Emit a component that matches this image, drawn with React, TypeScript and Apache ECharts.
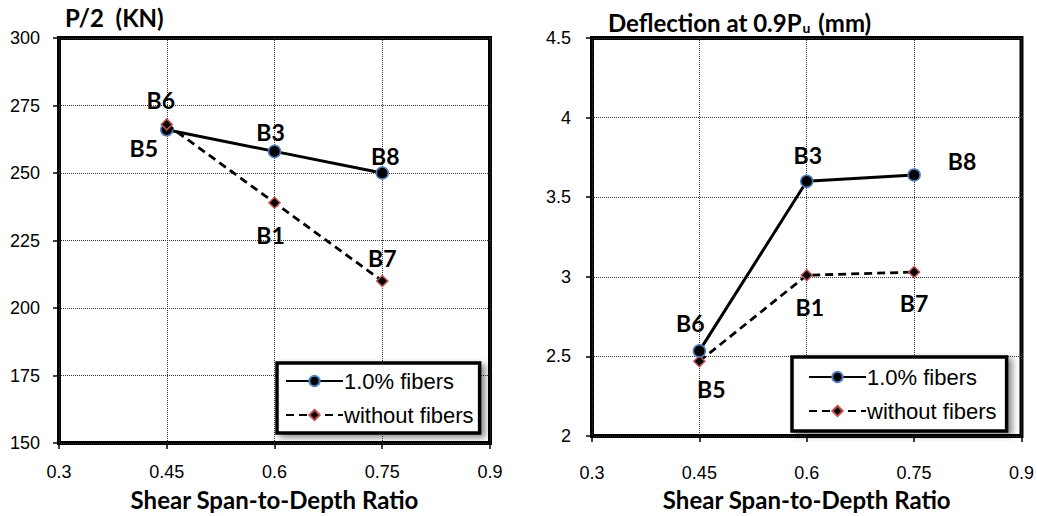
import React, { useEffect, useRef } from "react";
import * as echarts from "echarts";

const xValues = [0.45, 0.6, 0.75];

const loadFibers = [266, 258, 250];
const loadNoFibers = [268, 239, 210];
const loadFiberLabels = ["B5", "B3", "B8"];
const loadNoFiberLabels = ["B6", "B1", "B7"];

const deflFibers = [2.535, 3.6, 3.64];
const deflNoFibers = [2.47, 3.01, 3.03];
const deflFiberLabels = ["B6", "B3", "B8"];
const deflNoFiberLabels = ["B5", "B1", "B7"];

const seriesNames = ["1.0% fibers", "without fibers"];
const xAxisTitle = "Shear Span-to-Depth Ratio";

const BOLD = "Lato, 'Open Sans', sans-serif";
const ARIAL = "'Liberation Sans', Arial, sans-serif";

// label placement per point (style only)
const loadFiberPos = [
  { position: "left", distance: 8, offset: [6, 18] },
  { position: "top", distance: 8, offset: [-4, 7] },
  { position: "top", distance: 7, offset: [3, 8] },
];
const loadNoFiberPos = [
  { position: "top", distance: 8, offset: [-6, 1] },
  { position: "bottom", distance: 9, offset: [-4, 6] },
  { position: "top", distance: 16, offset: [0, 11] },
];
const deflFiberPos = [
  { position: "top", distance: 20, offset: [-9, 10] },
  { position: "top", distance: 16, offset: [1, 8] },
  { position: "right", distance: 32, offset: [-5, -14] },
];
const deflNoFiberPos = [
  { position: "bottom", distance: 9, offset: [12, 1] },
  { position: "bottom", distance: 14, offset: [3, 0] },
  { position: "bottom", distance: 13, offset: [0, 0] },
];

function buildData(ys: number[], names: string[], pos: any[]) {
  return xValues.map((x, i) => ({
    value: [x, ys[i]],
    name: names[i],
    label: {
      show: true,
      formatter: names[i],
      position: pos[i].position,
      distance: pos[i].distance,
      offset: pos[i].offset,
      fontFamily: BOLD,
      fontWeight: "bold",
      fontSize: 23,
      color: "#000",
    },
  }));
}

const fiberStyle = {
  symbol: "circle",
  symbolSize: 12,
  itemStyle: { color: "#000", borderColor: "#4f81bd", borderWidth: 1.5 },
  lineStyle: { color: "#000", width: 3, type: "solid" },
};
const noFiberStyle = {
  symbol: "diamond",
  symbolSize: 11,
  itemStyle: { color: "#000", borderColor: "#c0504d", borderWidth: 1.5 },
  lineStyle: { color: "#000", width: 2.8, type: [8, 5] },
};

function xAxis(gridIndex: number, nameGap: number, margin: number) {
  return {
    type: "value",
    gridIndex,
    min: 0.3,
    max: 0.9,
    interval: 0.15,
    name: xAxisTitle,
    nameLocation: "middle",
    nameGap,
    nameTextStyle: { fontFamily: BOLD, fontWeight: "bold", fontSize: 24, color: "#000" },
    axisLine: { show: false },
    axisTick: { show: true, length: 6, lineStyle: { color: "#000", width: 1.5 } },
    axisLabel: { fontFamily: ARIAL, fontSize: 18, color: "#000", margin },
    splitLine: { show: true, lineStyle: { color: "#333", width: 1, type: [1, 1] } },
  };
}

function yAxis(gridIndex: number, min: number, max: number, interval: number, margin: number) {
  return {
    type: "value",
    gridIndex,
    min,
    max,
    interval,
    axisLine: { show: false },
    axisTick: { show: true, length: 6, lineStyle: { color: "#000", width: 1.5 } },
    axisLabel: { fontFamily: ARIAL, fontSize: 18, color: "#000", margin },
    splitLine: { show: true, lineStyle: { color: "#333", width: 1, type: [1, 1] } },
  };
}

function legend(left: number, top: number, padding: number[]) {
  return {
    data: seriesNames,
    orient: "vertical",
    left,
    top,
    padding,
    itemGap: 12,
    itemWidth: 57,
    itemHeight: 13,
    backgroundColor: "#fff",
    borderColor: "#000",
    borderWidth: 3.5,
    borderRadius: 0,
    shadowColor: "rgba(0,0,0,0.45)",
    shadowBlur: 6,
    shadowOffsetX: 4,
    shadowOffsetY: 3,
    selectedMode: false,
    textStyle: { fontFamily: ARIAL, fontSize: 22, color: "#000", padding: [0, 0, 0, -4] },
  };
}

export default function App() {
  const ref = useRef<HTMLDivElement>(null);
  useEffect(() => {
    if (!ref.current) return;
    const chart = echarts.init(ref.current, null, { renderer: "svg" });
    const option: any = {
      animation: false,
      backgroundColor: "#fff",
      title: [
        {
          text: "P/2  (KN)",
          left: 65,
          top: 5,
          padding: 0,
          textStyle: { fontFamily: BOLD, fontWeight: "bold", fontSize: 24, color: "#000" },
        },
        {
          text: "{a|Deflection at 0.9P}{b|u}{a| (mm)}",
          left: 608,
          top: 4,
          padding: 0,
          textStyle: {
            rich: {
              a: { fontFamily: BOLD, fontWeight: "bold", fontSize: 24, color: "#000", lineHeight: 30, verticalAlign: "bottom" },
              b: { fontFamily: BOLD, fontWeight: "bold", fontSize: 14, color: "#000", lineHeight: 14, verticalAlign: "bottom", padding: [0, 2, 0, 1] },
            },
          },
        },
      ],
      grid: [
        { left: 59, top: 38, width: 431, height: 411, show: true, borderColor: "#000", borderWidth: 4, backgroundColor: "transparent" },
        { left: 592, top: 38, width: 430, height: 411, show: true, borderColor: "#000", borderWidth: 4, backgroundColor: "transparent" },
      ],
      xAxis: [xAxis(0, 44, 20), xAxis(1, 43, 28)],
      yAxis: [yAxis(0, 150, 300, 25, 19), yAxis(1, 2, 4.5, 0.5, 21)],
      legend: [legend(277, 363, [7, 6, 7, 8]), legend(792, 357, [9, 10, 9, 16])],
      series: [
        {
          name: seriesNames[0],
          type: "line",
          xAxisIndex: 0,
          yAxisIndex: 0,
          data: buildData(loadFibers, loadFiberLabels, loadFiberPos),
          z: 3,
          ...fiberStyle,
        },
        {
          name: seriesNames[1],
          type: "line",
          xAxisIndex: 0,
          yAxisIndex: 0,
          data: buildData(loadNoFibers, loadNoFiberLabels, loadNoFiberPos),
          z: 4,
          ...noFiberStyle,
        },
        {
          name: seriesNames[0],
          type: "line",
          xAxisIndex: 1,
          yAxisIndex: 1,
          data: buildData(deflFibers, deflFiberLabels, deflFiberPos),
          z: 4,
          ...fiberStyle,
        },
        {
          name: seriesNames[1],
          type: "line",
          xAxisIndex: 1,
          yAxisIndex: 1,
          data: buildData(deflNoFibers, deflNoFiberLabels, deflNoFiberPos),
          z: 3,
          ...noFiberStyle,
        },
      ],
    };
    chart.setOption(option);
    return () => chart.dispose();
  }, []);
  return (
    <div
      ref={ref}
      style={{ position: "fixed", left: 0, top: 0, width: 1037, height: 516, background: "#fff" }}
    />
  );
}
